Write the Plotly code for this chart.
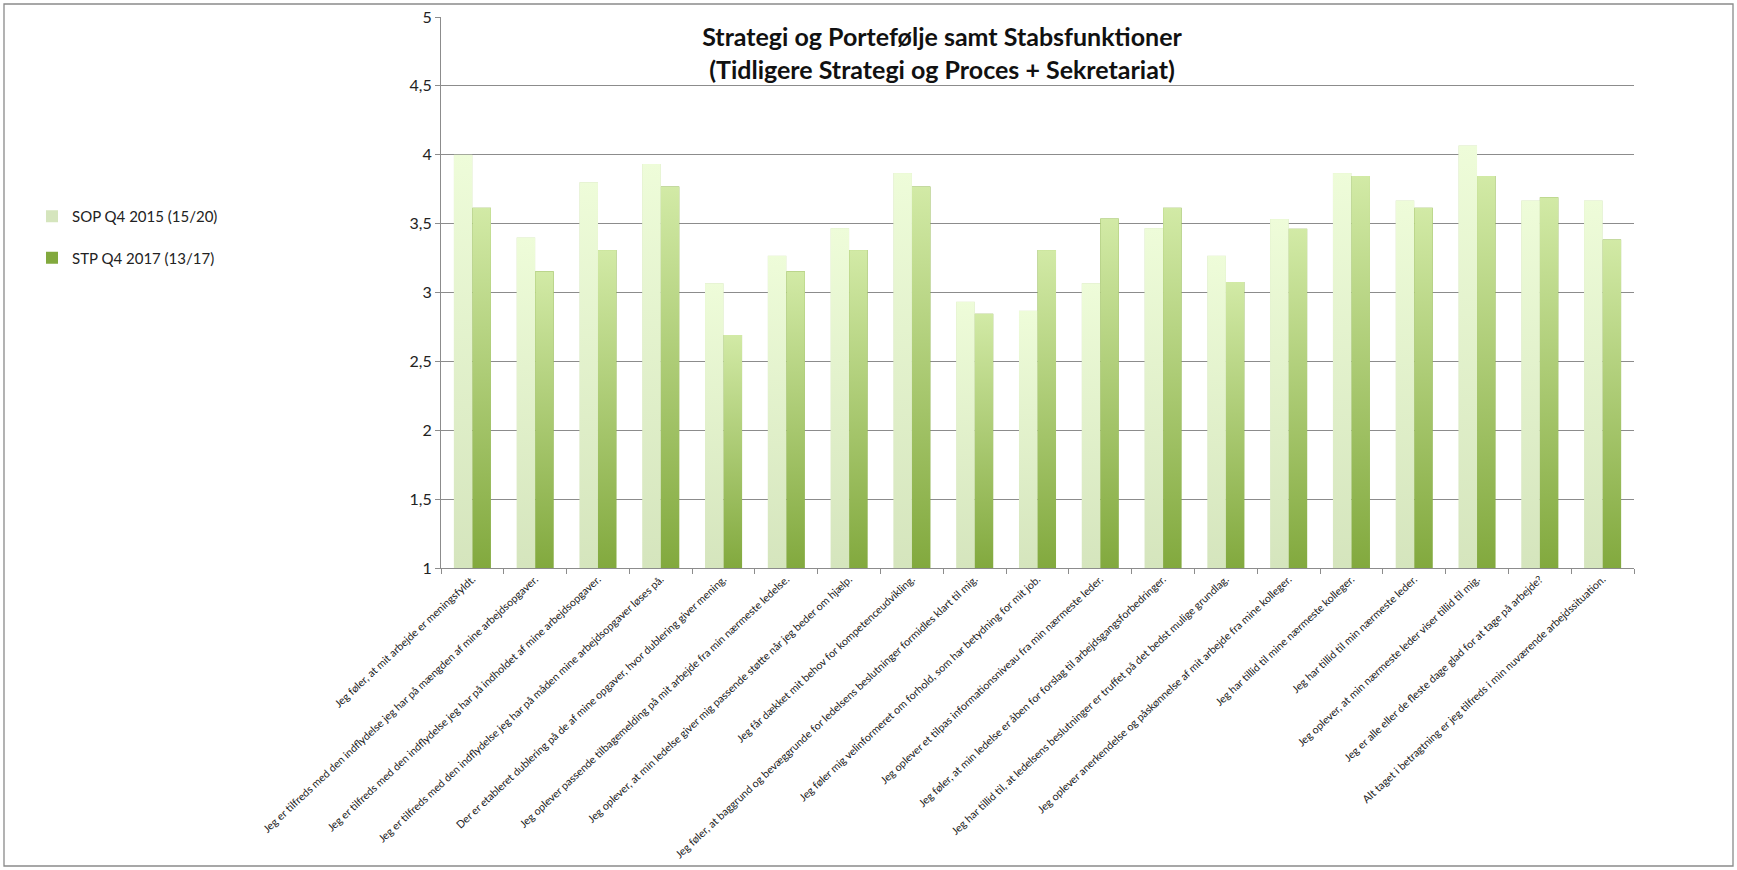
import base64
import plotly.graph_objects as go

categories = [
    "Jeg føler, at mit arbejde er meningsfyldt.",
    "Jeg er tilfreds med den indflydelse jeg har på mængden af mine arbejdsopgaver.",
    "Jeg er tilfreds med den indflydelse jeg har på indholdet af mine arbejdsopgaver.",
    "Jeg er tilfreds med den indflydelse jeg har på måden mine arbejdsopgaver løses på.",
    "Der er etableret dublering på de af mine opgaver, hvor dublering giver mening.",
    "Jeg oplever passende tilbagemelding på mit arbejde fra min nærmeste ledelse.",
    "Jeg oplever, at min ledelse giver mig passende støtte når jeg beder om hjælp.",
    "Jeg får dækket mit behov for kompetenceudvikling.",
    "Jeg føler, at baggrund og bevæggrunde for ledelsens beslutninger formidles klart til mig.",
    "Jeg føler mig velinformeret om forhold, som har betydning for mit job.",
    "Jeg oplever et tilpas informationsniveau fra min nærmeste leder.",
    "Jeg føler, at min ledelse er åben for forslag til arbejdsgangsforbedringer.",
    "Jeg har tillid til, at ledelsens beslutninger er truffet på det bedst mulige grundlag.",
    "Jeg oplever anerkendelse og påskønnelse af mit arbejde fra mine kolleger.",
    "Jeg har tillid til mine nærmeste kolleger.",
    "Jeg har tillid til min nærmeste leder.",
    "Jeg oplever, at min nærmeste leder viser tillid til mig.",
    "Jeg er alle eller de fleste dage glad for at tage på arbejde?",
    "Alt taget i betragtning er jeg tilfreds i min nuværende arbejdssituation.",
]

sop_name = "SOP Q4 2015 (15/20)"
sop_values = [4.0, 3.4, 3.8, 3.933, 3.067, 3.267, 3.467, 3.867, 2.933, 2.867,
              3.067, 3.467, 3.267, 3.533, 3.867, 3.667, 4.067, 3.667, 3.667]

stp_name = "STP Q4 2017 (13/17)"
stp_values = [3.615, 3.154, 3.308, 3.769, 2.692, 3.154, 3.308, 3.769, 2.846, 3.308,
              3.538, 3.615, 3.077, 3.462, 3.846, 3.615, 3.846, 3.692, 3.385]

title_text = "Strategi og Portefølje samt Stabsfunktioner<br>(Tidligere Strategi og Proces + Sekretariat)"

y_min, y_max, y_step = 1, 5, 0.5

FONT = "Lato"
SOP_BOTTOM, SOP_TOP = "#d5e5bd", "#eefcd9"
STP_BOTTOM, STP_TOP = "#82a93e", "#d2eaa6"
BARGAP = 0.41


def gradient_uri(color):
    svg = (
        '<svg xmlns="http://www.w3.org/2000/svg" width="10" height="100" '
        'viewBox="0 0 10 100" preserveAspectRatio="none">'
        '<defs><linearGradient id="g" x1="0" y1="0" x2="0" y2="1">'
        f'<stop offset="0" stop-color="{color}" stop-opacity="1"/>'
        f'<stop offset="1" stop-color="{color}" stop-opacity="0"/>'
        '</linearGradient></defs>'
        '<rect x="0" y="0" width="10" height="100" fill="url(#g)"/></svg>'
    )
    return "data:image/svg+xml;base64," + base64.b64encode(svg.encode()).decode()


fig = go.Figure()
fig.add_trace(go.Bar(
    name=sop_name, x=categories, y=sop_values, legendgroup="a",
    marker=dict(color=SOP_BOTTOM, line=dict(width=0)),
))
fig.add_trace(go.Bar(
    name=stp_name, x=categories, y=stp_values, legendgroup="b",
    marker=dict(color=STP_BOTTOM, line=dict(width=0)),
))

# per-bar vertical gradient overlays (derived from the data values)
bar_w = (1 - BARGAP) / 2
images = []
for i, v in enumerate(sop_values):
    images.append(dict(source=gradient_uri(SOP_TOP), xref="x", yref="y",
                       x=i - bar_w, y=v, sizex=bar_w, sizey=v - y_min,
                       xanchor="left", yanchor="top", sizing="stretch", layer="above"))
for i, v in enumerate(stp_values):
    images.append(dict(source=gradient_uri(STP_TOP), xref="x", yref="y",
                       x=i, y=v, sizex=bar_w, sizey=v - y_min,
                       xanchor="left", yanchor="top", sizing="stretch", layer="above"))

W, H = 1737, 870
L, R, T, B = 441, 103, 17, 302
pw, ph = W - L - R, H - T - B

fig.update_layout(
    width=W, height=H,
    margin=dict(l=L, r=R, t=T, b=B, autoexpand=False),
    paper_bgcolor="white", plot_bgcolor="white",
    separators=",.",
    barmode="group", bargap=BARGAP, bargroupgap=0,
    font=dict(family=FONT, color="#222222"),
    title=dict(text=title_text, x=(942 - L) / pw, xref="paper", xanchor="center",
               y=1 - 46 / H, yanchor="middle",
               font=dict(family=FONT, size=25, color="#111111", weight="bold")),
    legend=dict(x=(32 - L) / pw, xanchor="left", y=(H - B - 200) / ph, yanchor="top",
                font=dict(family=FONT, size=15, color="#222222"),
                tracegroupgap=19, bgcolor="rgba(0,0,0,0)"),
    images=images,
    shapes=[dict(type="rect", xref="paper", yref="paper",
                 x0=(4 - L) / pw, x1=(1733 - L) / pw,
                 y0=-(866 - (H - B)) / ph, y1=1 + (T - 4) / ph,
                 line=dict(color="#8a8a8a", width=1.3), layer="below")],
)

fig.update_yaxes(
    range=[y_min, y_max], dtick=y_step, tick0=y_min,
    showgrid=True, gridcolor="#8c8c8c", gridwidth=1,
    showline=True, linecolor="#8c8c8c", linewidth=1,
    ticks="outside", ticklen=5, tickcolor="#8c8c8c",
    tickfont=dict(family=FONT, size=16, color="#222222"),
    ticklabeloverflow="allow", automargin=False,
    zeroline=False,
)
fig.update_xaxes(
    showline=True, linecolor="#8c8c8c", linewidth=1,
    ticks="outside", ticklen=5, tickcolor="#8c8c8c", tickson="boundaries",
    tickangle=-43, automargin=False,
    tickfont=dict(family=FONT, size=10.7, color="#222222"),
)

# remove the default page margin so the figure fills the window exactly
fig.write_html("out.html", config={"displayModeBar": False},
               post_script="document.body.style.margin='0';document.body.style.overflow='hidden';")
